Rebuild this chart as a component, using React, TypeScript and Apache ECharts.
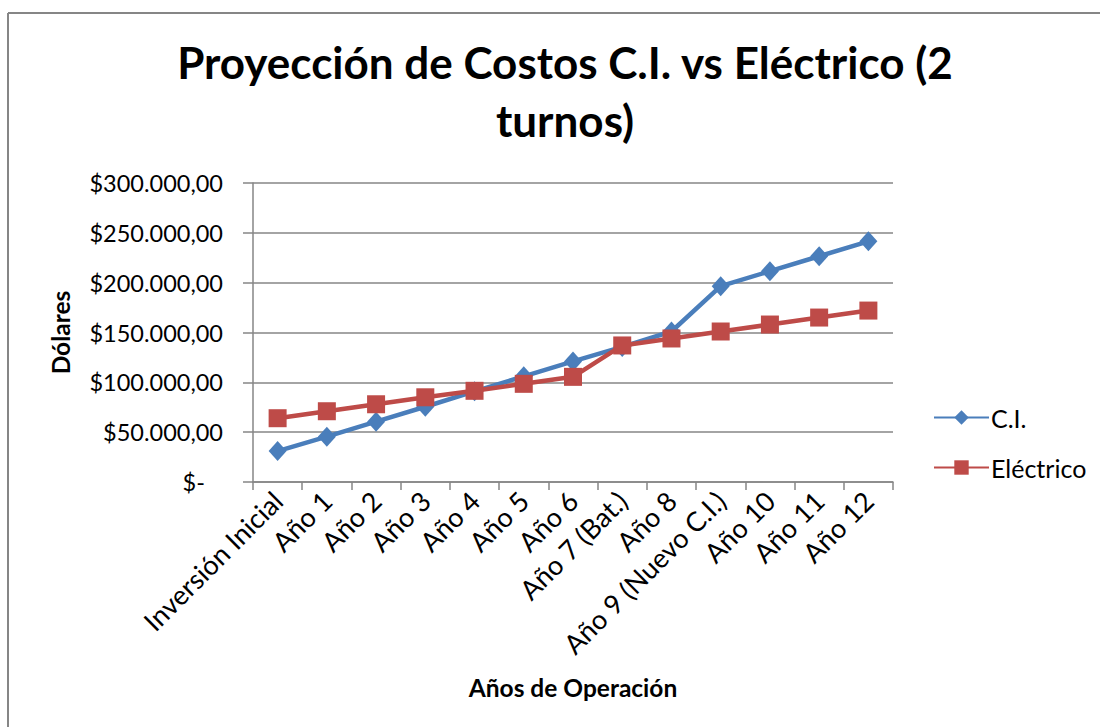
import React, { useEffect, useRef } from "react";
import * as echarts from "echarts";

const categories = [
  "Inversión Inicial",
  "Año 1",
  "Año 2",
  "Año 3",
  "Año 4",
  "Año 5",
  "Año 6",
  "Año 7 (Bat.)",
  "Año 8",
  "Año 9 (Nuevo C.I.)",
  "Año 10",
  "Año 11",
  "Año 12",
];

const ciValues = [31000, 45500, 60500, 75500, 91000, 106000, 121000, 135500, 151000, 196500, 211500, 226500, 241500];
const electricoValues = [64000, 71000, 78000, 85000, 91500, 98500, 105500, 137000, 144000, 151000, 158000, 165000, 172000];

const yTicks = { min: 0, max: 300000, interval: 50000 };

const FONT = "Lato";

function fmtMoney(v: number): string {
  if (v === 0) return "$-\u00a0\u00a0\u00a0";
  const s = Math.round(v).toString();
  const parts: string[] = [];
  for (let i = s.length; i > 0; i -= 3) parts.unshift(s.slice(Math.max(0, i - 3), i));
  return "$" + parts.join(".") + ",00";
}

export default function App() {
  const ref = useRef<HTMLDivElement>(null);
  useEffect(() => {
    if (!ref.current) return;
    const chart = echarts.init(ref.current, null, { renderer: "svg" });
    const gray = "#868686";
    chart.setOption({
      animation: false,
      backgroundColor: "#ffffff",
      textStyle: { fontFamily: FONT },
      title: {
        text: "Proyección de Costos C.I. vs Eléctrico (2\nturnos)",
        left: 560,
        top: 28,
        textAlign: "center",
        textStyle: { fontFamily: FONT, fontWeight: "bold", fontSize: 44, lineHeight: 58, color: "#000" },
      },
      graphic: [
        {
          type: "line",
          shape: { x1: 8, y1: 13, x2: 1100, y2: 13 },
          style: { stroke: gray, lineWidth: 2 },
          silent: true,
        },
        {
          type: "line",
          shape: { x1: 8, y1: 13, x2: 8, y2: 727 },
          style: { stroke: gray, lineWidth: 2 },
          silent: true,
        },
      ],
      legend: {
        orient: "vertical",
        left: 933,
        top: 405,
        padding: 0,
        itemWidth: 55,
        itemHeight: 18,
        itemGap: 25,
        textStyle: { fontFamily: FONT, fontSize: 25, color: "#000", padding: [0, 0, 0, -3] },
        data: ["C.I.", "Eléctrico"],
      },
      grid: { left: 253, right: 207, top: 183, bottom: 245, containLabel: false },
      xAxis: {
        type: "category",
        data: categories,
        boundaryGap: true,
        name: "Años de Operación",
        nameLocation: "middle",
        nameGap: 193,
        nameTextStyle: { fontFamily: FONT, fontWeight: "bold", fontSize: 24.5, color: "#000" },
        axisLine: { lineStyle: { color: gray, width: 1.5 } },
        axisTick: { show: true, length: 8, lineStyle: { color: gray, width: 1.5 } },
        axisLabel: { interval: 0, rotate: 45, margin: 14, fontFamily: FONT, fontSize: 27, color: "#000" },
      },
      yAxis: {
        type: "value",
        min: yTicks.min,
        max: yTicks.max,
        interval: yTicks.interval,
        name: "Dólares",
        nameLocation: "middle",
        nameGap: 180,
        nameRotate: 90,
        nameTextStyle: { fontFamily: FONT, fontWeight: "bold", fontSize: 24.5, color: "#000" },
        axisLine: { show: true, lineStyle: { color: gray, width: 1.5 } },
        axisTick: { show: true, length: 10, lineStyle: { color: gray, width: 1.5 } },
        axisLabel: { margin: 30, fontFamily: FONT, fontSize: 23.5, color: "#000", formatter: (v: number) => fmtMoney(v) },
        splitLine: { show: true, lineStyle: { color: gray, width: 1.5 } },
      },
      series: [
        {
          name: "C.I.",
          type: "line",
          data: ciValues,
          symbol: "diamond",
          symbolSize: [18, 20],
          lineStyle: { color: "#4A7EBB", width: 4.5 },
          itemStyle: { color: "#4A7EBB" },
          z: 2,
        },
        {
          name: "Eléctrico",
          type: "line",
          data: electricoValues,
          symbol: "rect",
          symbolSize: 18,
          lineStyle: { color: "#BE4B48", width: 4.5 },
          itemStyle: { color: "#BE4B48" },
          z: 3,
        },
      ],
    });
    return () => chart.dispose();
  }, []);
  return (
    <div
      ref={ref}
      style={{ position: "fixed", left: 0, top: 0, width: 1100, height: 727 }}
    />
  );
}
